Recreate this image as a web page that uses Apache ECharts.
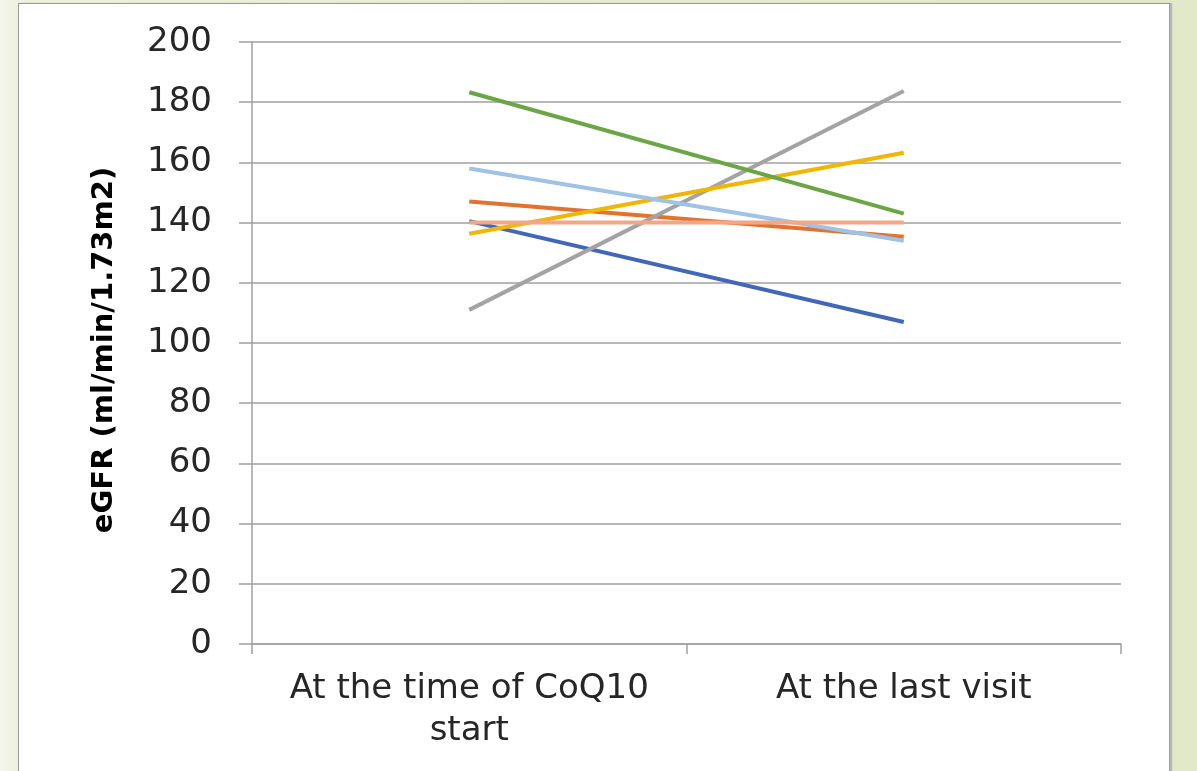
<!DOCTYPE html>
<html>
<head>
<meta charset="utf-8">
<script src="https://cdn.jsdelivr.net/npm/echarts@6/dist/echarts.min.js"></script>
<style>
  html, body { margin: 0; padding: 0; width: 1197px; height: 771px; overflow: hidden; }
  body { background: linear-gradient(to right, #f4f6ec 0px, #edf1de 18px, #e6ecd0 600px, #e2e9c8 1197px); position: relative; }
  #frame { position: absolute; left: 18px; top: 3px; width: 1150px; height: 800px; background: #ffffff; border: 1px solid #9a9a9a; box-shadow: 2px 0 1px #b8b8b8; }
  #chart { position: absolute; left: 0; top: 0; width: 1197px; height: 771px; }
</style>
</head>
<body>
<div id="frame"></div>
<div id="chart"></div>
<script>
const categories = ['At the time of CoQ10\nstart', 'At the last visit'];
const yTicks = [0, 20, 40, 60, 80, 100, 120, 140, 160, 180, 200];
const patient1 = [140.5, 107];
const patient2 = [147, 135.3];
const patient3 = [111, 183.7];
const patient4 = [136.3, 163.2];
const patient5 = [158, 134];
const patient6 = [183.3, 143];
const patient7 = [140, 140];
const seriesNames = ['Patient 1', 'Patient 2', 'Patient 3', 'Patient 4', 'Patient 5', 'Patient 6', 'Patient 7'];

const seriesData = [patient1, patient2, patient3, patient4, patient5, patient6, patient7];
const colors = ['#4168b8', '#e0742f', '#a3a3a3', '#f2b600', '#9fc2e7', '#6aa646', '#f2a887'];

const chart = echarts.init(document.getElementById('chart'));
chart.setOption({
  backgroundColor: 'transparent',
  animation: false,
  grid: { left: 252, top: 42, right: 76, bottom: 127, containLabel: false },
  xAxis: {
    type: 'category',
    data: categories,
    boundaryGap: true,
    axisLine: { show: true, lineStyle: { color: '#a0a0a0', width: 1.5 } },
    axisTick: { show: true, interval: 0, length: 10, lineStyle: { color: '#a0a0a0', width: 1.5 } },
    axisLabel: { interval: 0, hideOverlap: false, color: '#262626', fontFamily: 'DejaVu Sans', fontSize: 34, lineHeight: 42, margin: 24 },
    splitLine: { show: false }
  },
  yAxis: {
    type: 'value',
    min: yTicks[0],
    max: yTicks[yTicks.length - 1],
    interval: 20,
    name: 'eGFR (ml/min/1.73m2)',
    nameLocation: 'middle',
    nameGap: 133,
    nameTextStyle: { color: '#000000', fontFamily: 'DejaVu Sans', fontWeight: 'bold', fontSize: 29, padding: [0, 14, 0, 0] },
    axisLine: { show: true, lineStyle: { color: '#a0a0a0', width: 1.5 } },
    axisTick: { show: true, length: 13, lineStyle: { color: '#a0a0a0', width: 1.5 } },
    axisLabel: { color: '#262626', fontFamily: 'DejaVu Sans', fontSize: 34, margin: 40 },
    splitLine: { show: true, lineStyle: { color: '#a0a0a0', width: 1.5 } }
  },
  series: seriesData.map((d, i) => ({
    name: seriesNames[i],
    type: 'line',
    data: d,
    symbol: 'none',
    lineStyle: { color: colors[i], width: 4 },
    itemStyle: { color: colors[i] }
  }))
});
</script>
</body>
</html>
